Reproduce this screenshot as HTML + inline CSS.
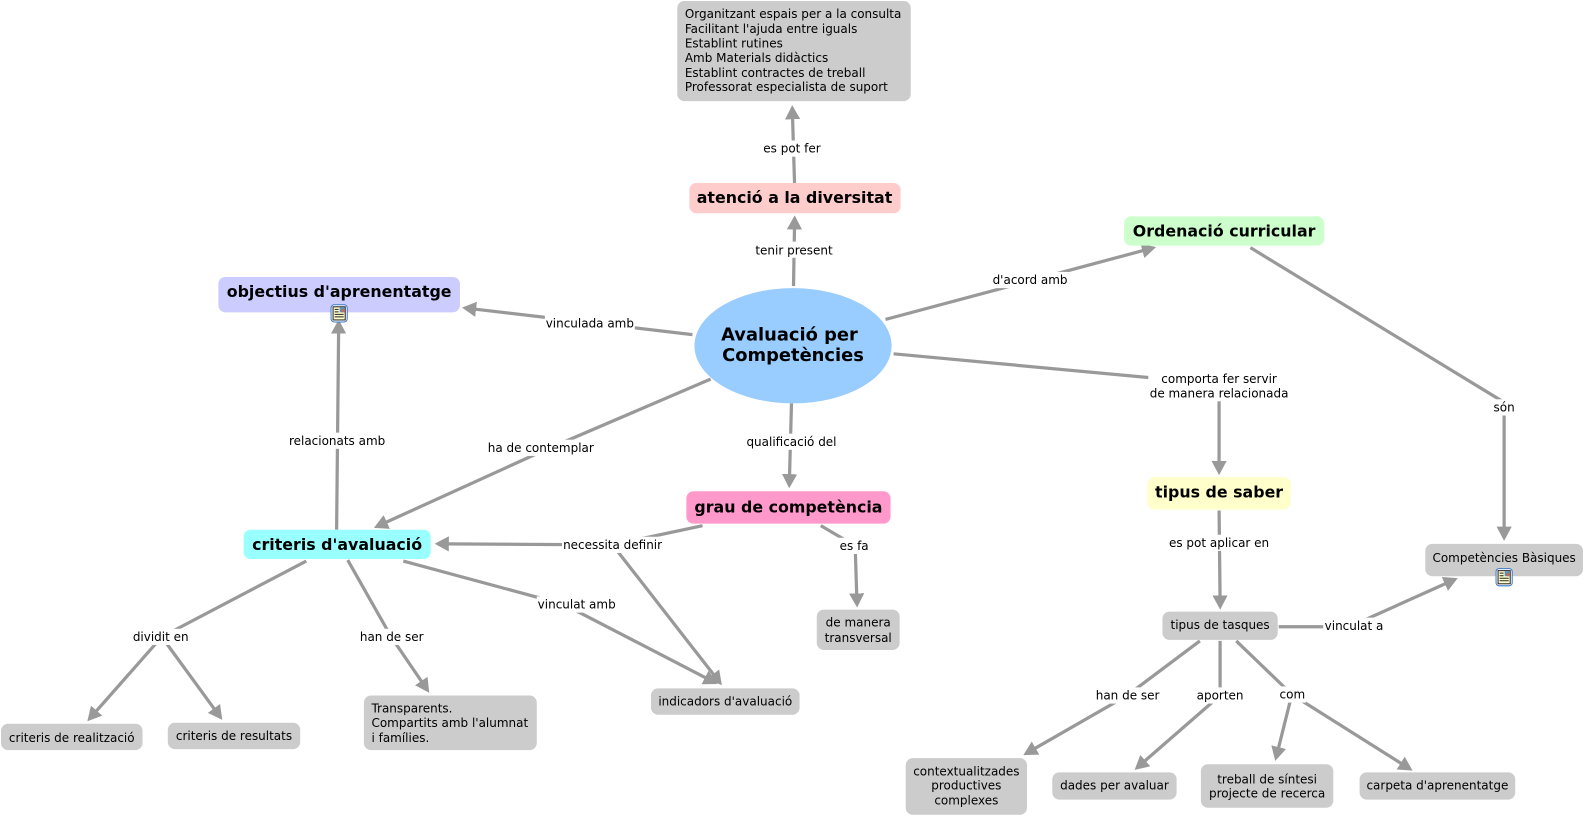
<!DOCTYPE html>
<html><head><meta charset="utf-8"><style>
html,body{margin:0;padding:0;background:#fff}
svg{display:block}
text{font-family:"DejaVu Sans","Liberation Sans",sans-serif;font-size:11.87px;fill:#000;text-anchor:middle}
text.b{font-weight:bold;font-size:15.66px}
text.c{font-weight:bold;font-size:17.68px}
text.l{text-anchor:start}
.n{fill:#ccc}
.e{fill:none;stroke:#999;stroke-width:3.2}
.bg{fill:#fff}
</style></head><body>
<svg xmlns="http://www.w3.org/2000/svg" width="1585" height="817" viewBox="0 0 1568 808.2" preserveAspectRatio="none">
<defs>
<marker id="a" markerUnits="userSpaceOnUse" markerWidth="16" markerHeight="16" refX="4" refY="8" orient="auto"><path d="M0 0.5L14 8L0 15.5z" fill="#999"/></marker>
<g id="ic"><rect x="0.5" y="0.5" width="16" height="17" rx="3" fill="#fff" stroke="#3a78c8"/><rect x="2.5" y="2.5" width="12" height="13" fill="#ffffcc" stroke="#222" stroke-width="1"/><rect x="9" y="3" width="5" height="5" fill="#5a8fc0"/><rect x="11" y="5" width="3" height="3" fill="#c86a50"/><path d="M4 5h4M4 7.5h4M4 10h9M4 12.5h9" stroke="#222" stroke-width="1"/></g>
</defs>
<g class="e">
<path d="M786 181L784 114" marker-end="url(#a)"/>
<path d="M785 283L786 223" marker-end="url(#a)"/>
<path d="M876 316L1134 247" marker-end="url(#a)"/>
<path d="M1237 245L1488 398L1488 525" marker-end="url(#a)"/>
<path d="M884 350L1206 380L1206 460" marker-end="url(#a)"/>
<path d="M685 331L467 305.5" marker-end="url(#a)"/>
<path d="M703 375L535 447L379 518" marker-end="url(#a)"/>
<path d="M783 399L781 473" marker-end="url(#a)"/>
<path d="M333 524L335 326" marker-end="url(#a)"/>
<path d="M695 520L606 539L440 538" marker-end="url(#a)"/>
<path d="M606 539L708 670" marker-end="url(#a)"/>
<path d="M812 520L846 540L847.6 591" marker-end="url(#a)"/>
<path d="M1206 505L1207 593" marker-end="url(#a)"/>
<path d="M1265 620L1335 620L1433 576" marker-end="url(#a)"/>
<path d="M303 555L160 630L93 706" marker-end="url(#a)"/>
<path d="M160 630L214 704" marker-end="url(#a)"/>
<path d="M344 554L387 630L419 677" marker-end="url(#a)"/>
<path d="M399 555L558 598L701 672" marker-end="url(#a)"/>
<path d="M1187 634L1115 688L1021 742" marker-end="url(#a)"/>
<path d="M1207 634L1207 688L1130 755" marker-end="url(#a)"/>
<path d="M1223 634L1278 687L1264 743" marker-end="url(#a)"/>
<path d="M1278 687L1389 757" marker-end="url(#a)"/>
</g>
<g class="bg">
<rect x="753" y="139" width="61" height="16"/>
<rect x="745" y="239" width="81" height="16"/>
<rect x="981" y="269" width="76" height="16"/>
<rect x="1475" y="395" width="26" height="16"/>
<rect x="1136" y="367" width="140" height="30"/>
<rect x="539" y="312" width="89" height="16"/>
<rect x="482" y="435" width="107" height="16"/>
<rect x="738" y="429" width="90" height="16"/>
<rect x="285" y="428" width="97" height="16"/>
<rect x="556" y="531" width="100" height="16"/>
<rect x="829" y="532" width="32" height="16"/>
<rect x="1155" y="529" width="102" height="16"/>
<rect x="1309" y="611" width="61" height="16"/>
<rect x="130" y="622" width="58" height="16"/>
<rect x="355" y="622" width="65" height="16"/>
<rect x="531" y="590" width="79" height="16"/>
<rect x="1083" y="680" width="65" height="16"/>
<rect x="1183" y="680" width="48" height="16"/>
<rect x="1265" y="679" width="27" height="16"/>
</g>
<text x="783.5" y="151">es pot fer</text>
<text x="785.5" y="252">tenir present</text>
<text x="1019" y="281">d'acord amb</text>
<text x="1488" y="407">són</text>
<text x="1206" y="379">comporta fer servir</text>
<text x="1206" y="393">de manera relacionada</text>
<text x="583.5" y="324">vinculada amb</text>
<text x="535" y="447">ha de contemplar</text>
<text x="783" y="441">qualificació del</text>
<text x="333.5" y="440">relacionats amb</text>
<text x="606" y="543">necessita definir</text>
<text x="845" y="544">es fa</text>
<text x="1206" y="541">es pot aplicar en</text>
<text x="1339.5" y="623">vinculat a</text>
<text x="159" y="634">dividit en</text>
<text x="387.5" y="634">han de ser</text>
<text x="570.5" y="602">vinculat amb</text>
<text x="1115.5" y="692">han de ser</text>
<text x="1207" y="692">aporten</text>
<text x="1278.5" y="691">com</text>

<ellipse cx="784.5" cy="342" rx="97.5" ry="57" fill="#99ccff"/>
<text class="c" x="781" y="337">Avaluació per</text>
<text class="c" x="784.5" y="357">Competències</text>

<rect x="682" y="181" width="209" height="30" rx="7" fill="#ffcccc"/>
<text class="b" x="786" y="201">atenció a la diversitat</text>
<rect x="1112" y="214" width="198" height="29" rx="7" fill="#ccffcc"/>
<text class="b" x="1211" y="234">Ordenació curricular</text>
<rect x="216" y="274" width="239" height="35" rx="7" fill="#ccccff"/>
<text class="b" x="335.5" y="294">objectius d'aprenentatge</text>
<rect x="241" y="524" width="185" height="29" rx="7" fill="#99ffff"/>
<text class="b" x="333.5" y="544">criteris d'avaluació</text>
<rect x="679" y="486" width="202" height="32" rx="7" fill="#ff99cc"/>
<text class="b" x="780" y="507">grau de competència</text>
<rect x="1135" y="472" width="142" height="32" rx="7" fill="#ffffcc"/>
<text class="b" x="1206" y="492">tipus de saber</text>

<rect class="n" x="670" y="1" width="231" height="99" rx="7"/>
<text class="l" x="677.5" y="18">Organitzant espais per a la consulta</text>
<text class="l" x="677.5" y="32.5">Facilitant l'ajuda entre iguals</text>
<text class="l" x="677.5" y="47">Establint rutines</text>
<text class="l" x="677.5" y="61.5">Amb Materials didàctics</text>
<text class="l" x="677.5" y="76">Establint contractes de treball</text>
<text class="l" x="677.5" y="90">Professorat especialista de suport</text>

<rect class="n" x="1410" y="538" width="156" height="32" rx="7"/>
<text x="1488" y="556">Competències Bàsiques</text>
<rect class="n" x="1150" y="605" width="114" height="28" rx="7"/>
<text x="1207" y="622">tipus de tasques</text>
<rect class="n" x="808" y="603" width="82" height="40" rx="7"/>
<text x="849" y="620">de manera</text>
<text x="849" y="635">transversal</text>
<rect class="n" x="644" y="681" width="147" height="26" rx="7"/>
<text x="717.5" y="698">indicadors d'avaluació</text>
<rect class="n" x="1" y="716" width="140" height="26" rx="7"/>
<text x="71" y="734">criteris de realització</text>
<rect class="n" x="166" y="715" width="131" height="26" rx="7"/>
<text x="231.5" y="732">criteris de resultats</text>
<rect class="n" x="360" y="688" width="171" height="54" rx="7"/>
<text class="l" x="367.5" y="705">Transparents.</text>
<text class="l" x="367.5" y="719">Compartits amb l'alumnat</text>
<text class="l" x="367.5" y="734">i famílies.</text>
<rect class="n" x="896" y="750" width="120" height="56" rx="7"/>
<text x="956" y="767">contextualitzades</text>
<text x="956" y="781">productives</text>
<text x="956" y="796">complexes</text>
<rect class="n" x="1041" y="764" width="123" height="27" rx="7"/>
<text x="1102.5" y="781">dades per avaluar</text>
<rect class="n" x="1188" y="756" width="131" height="43" rx="7"/>
<text x="1253.5" y="775">treball de síntesi</text>
<text x="1253.5" y="789">projecte de recerca</text>
<rect class="n" x="1345" y="764" width="154" height="27" rx="7"/>
<text x="1422" y="781">carpeta d'aprenentatge</text>

<use href="#ic" x="327" y="301"/>
<use href="#ic" x="1479.5" y="562"/>
</svg>
</body></html>
